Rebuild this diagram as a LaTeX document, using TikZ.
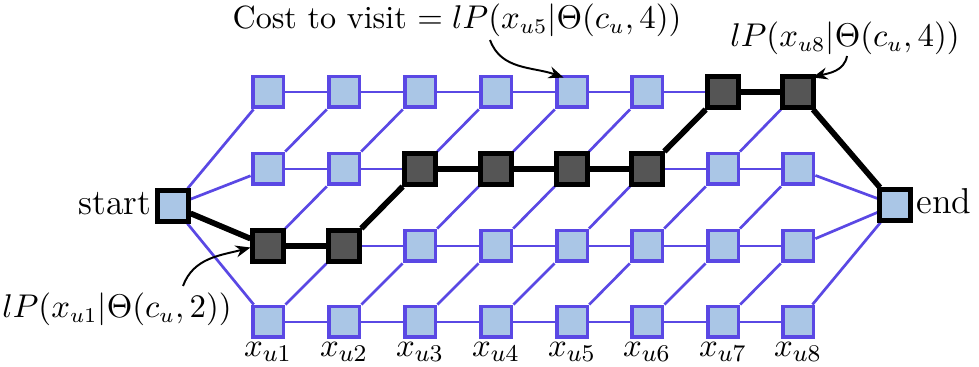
\documentclass[tikz,border=0pt]{standalone}
\usetikzlibrary{arrows.meta}
\definecolor{edgeblue}{RGB}{90,72,228}
\definecolor{boxfill}{RGB}{170,198,230}
\definecolor{darkfill}{RGB}{85,85,85}
\pgfdeclarelayer{bg}
\pgfsetlayers{bg,main}
\begin{document}
\begin{tikzpicture}[x=0.3333pt,y=-0.3333pt,
  lbox/.style={draw=edgeblue, fill=boxfill, line width=1.3pt, minimum size=10.3pt, inner sep=0pt},
  dbox/.style={draw=black, fill=darkfill, line width=1.4pt, minimum size=10.3pt, inner sep=0pt},
  sbox/.style={draw=black, fill=boxfill, line width=1.4pt, minimum size=10.3pt, inner sep=0pt},
  gedge/.style={draw=edgeblue, line width=0.9pt},
  pedge/.style={draw=black, line width=1.9pt},
  callout/.style={draw=black, line width=0.65pt, -{Stealth[length=5pt,width=4pt]}},
  lbl/.style={inner sep=0pt, font=\fontsize{10.7}{12}\selectfont},
  xlbl/.style={inner sep=0pt, anchor=base, font=\fontsize{11}{13}\selectfont},
  termlbl/.style={inner sep=0pt, font=\fontsize{12}{14}\selectfont}]
\useasboundingbox (0,0) rectangle (979,367);
% path membership
\expandafter\def\csname dark13\endcsname{}
\expandafter\def\csname dark23\endcsname{}
\expandafter\def\csname dark32\endcsname{}
\expandafter\def\csname dark42\endcsname{}
\expandafter\def\csname dark52\endcsname{}
\expandafter\def\csname dark62\endcsname{}
\expandafter\def\csname dark71\endcsname{}
\expandafter\def\csname dark81\endcsname{}
% grid nodes
\foreach \c/\x in {1/268,2/344,3/420,4/496,5/572,6/647,7/723,8/798}{
  \foreach \r/\y in {1/92,2/169,3/246,4/322}{
    \ifcsname dark\c\r\endcsname\def\st{dbox}\else\def\st{lbox}\fi
    \node[\st] (n\c\r) at (\x,\y) {};
  }
  \node[xlbl] (xl\c) at (\x,357) {$x_{u\c}$};
}
\node[sbox] (start) at (173,206) {};
\node[sbox] (end) at (895,205) {};
\node[termlbl, anchor=base east] (startl) at (152,215) {start};
\node[termlbl, anchor=base west] (endl) at (916,214) {end};
% edges
\begin{pgfonlayer}{bg}
\foreach \c [evaluate=\c as \d using int(\c+1)] in {1,...,7}{
  \foreach \r in {1,...,4}{
    \draw[gedge] (n\c\r) -- (n\d\r);
  }
  \foreach \r [evaluate=\r as \q using int(\r-1)] in {2,3,4}{
    \draw[gedge] (n\c\r) -- (n\d\q);
  }
}
\foreach \r in {1,...,4}{
  \draw[gedge] (start) -- (n1\r);
  \draw[gedge] (n8\r) -- (end);
}
\draw[pedge] (start) -- (n13) -- (n23) -- (n32) -- (n42) -- (n52) -- (n62) -- (n71) -- (n81) -- (end);
\end{pgfonlayer}
% labels and callouts
\node[lbl, anchor=base] (cost) at (457,29) {Cost to visit $= lP(x_{u5}|\Theta(c_u,4))$};
\node[lbl, anchor=base] (lab8) at (845,47) {$lP(x_{u8}|\Theta(c_u,4))$};
\node[lbl, anchor=base] (lab1) at (117,318) {$lP(x_{u1}|\Theta(c_u,2))$};
\coordinate (c1) at (490,40);
\coordinate (c8) at (847,56);
\coordinate (cl1) at (183,286);
\draw[callout] (c1) to[out=-70, in=160] ([xshift=3pt,yshift=-1pt]n51.north west);
\draw[callout] (c8) to[out=-100, in=15] ([xshift=-1pt,yshift=-1pt]n81.north east);
\draw[callout] (cl1) to[out=70, in=195] ([yshift=-0.5pt]n13.west);
\end{tikzpicture}
\end{document}
